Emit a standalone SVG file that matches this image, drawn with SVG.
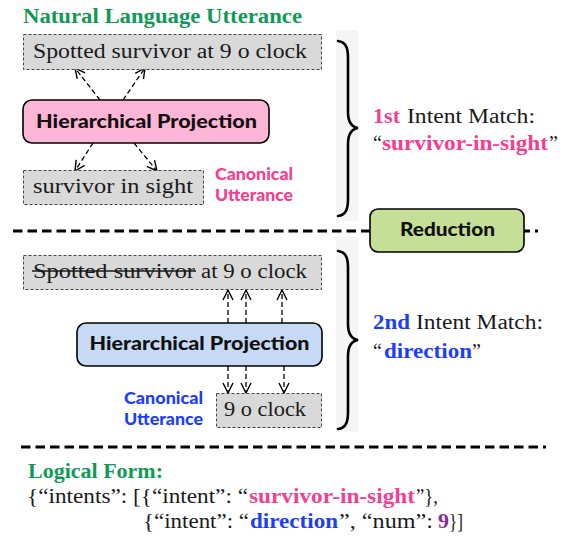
<svg xmlns="http://www.w3.org/2000/svg" width="567" height="543" viewBox="0 0 567 543">
<style>
.serif{font-family:"Liberation Serif","Times New Roman",serif;font-size:20px;fill:#1a1a1a}
.b{font-weight:bold}
.sans{font-family:Lato,"Liberation Sans",Arial,sans-serif;font-weight:900;fill:#111}
.green{fill:#0f9a57}
.pink{fill:#f73d8f}
.blue{fill:#1c3dff}
.purple{fill:#8c2a9c}
.gbox{fill:#d9d9d9;stroke:#444;stroke-width:1;stroke-dasharray:3 2}
.conn{stroke:#000;stroke-width:1.3;stroke-dasharray:5 3;fill:none;marker-end:url(#ah)}
.sep{stroke:#000;stroke-width:3;stroke-dasharray:9.5 5}
.brace{fill:none;stroke:#000;stroke-width:2.6;stroke-linecap:round}
.bracebg{fill:#f5f5f5}
</style>
<defs>
<marker id="ah" markerUnits="userSpaceOnUse" markerWidth="14" markerHeight="14" viewBox="-12 -7 14 14" refX="0" refY="0" orient="auto">
<path d="M-10,-5 L0,0 L-10,5" fill="none" stroke="#000" stroke-width="1.4"/>
</marker>
</defs>
<rect width="567" height="543" fill="#fff"/>

<!-- separators -->
<line class="sep" x1="13" y1="231" x2="538" y2="231"/>
<line class="sep" x1="21" y1="447" x2="546" y2="447"/>

<!-- brace backgrounds and braces -->
<rect class="bracebg" x="336" y="30" width="22" height="191"/>
<rect class="bracebg" x="336" y="237" width="22" height="195"/>
<path class="brace" d="M338,41 C346,42 348,48 348,58 L348,112 C348,122 352,127 358,128 C352,129 348,134 348,144 L348,199 C348,209 346,215 338,216"/>
<path class="brace" d="M338,251 C346,252 348,258 348,268 L348,324 C348,334 352,339 358,340 C352,341 348,346 348,356 L348,412 C348,422 346,428 338,429"/>

<!-- title -->
<text class="serif b green" x="23" y="23" font-size="20" textLength="279" lengthAdjust="spacingAndGlyphs">Natural Language Utterance</text>

<!-- connectors -->
<g id="connectors">
<path class="conn" d="M100,100 L75,68"/>
<path class="conn" d="M123,100 L145,68"/>
<path class="conn" d="M93,143 L75,171"/>
<path class="conn" d="M134,143 L157,171"/>
<path class="conn" d="M228,323 L228,290"/>
<path class="conn" d="M246,323 L246,290"/>
<path class="conn" d="M282,323 L282,290"/>
<path class="conn" d="M228,366 L228,393"/>
<path class="conn" d="M246,366 L246,393"/>
<path class="conn" d="M284,366 L284,393"/>
</g>

<g id="nl1">
<rect class="gbox" x="23.5" y="34.5" width="298" height="35"/>
<text class="serif" x="33" y="58" textLength="274" lengthAdjust="spacingAndGlyphs">Spotted survivor at 9 o clock</text>
</g>

<g id="hp1">
<rect x="23" y="100" width="246" height="43" rx="9" fill="#ffb5d6" stroke="#000" stroke-width="1.6"/>
<text class="sans" x="146.5" y="128" font-size="19" text-anchor="middle" textLength="221" lengthAdjust="spacingAndGlyphs">Hierarchical Projection</text>
</g>

<g id="cu1">
<rect class="gbox" x="23.5" y="170.5" width="180" height="34"/>
<text class="serif" x="33" y="193" textLength="160" lengthAdjust="spacingAndGlyphs">survivor in sight</text>
</g>

<g id="cu1label">
<text class="sans pink" x="215" y="180" font-size="16.5" textLength="78" lengthAdjust="spacingAndGlyphs">Canonical</text>
<text class="sans pink" x="215" y="201" font-size="16.5" textLength="78" lengthAdjust="spacingAndGlyphs">Utterance</text>
</g>

<g id="match1">
<text class="serif b pink" x="373" y="123" textLength="27" lengthAdjust="spacingAndGlyphs">1st</text>
<text class="serif" x="407" y="123" textLength="128" lengthAdjust="spacingAndGlyphs">Intent Match:</text>
<text class="serif" x="373" y="150">“</text>
<text class="serif b pink" x="382" y="150" textLength="166" lengthAdjust="spacingAndGlyphs">survivor-in-sight</text>
<text class="serif" x="549" y="150">”</text>
</g>

<g id="reduction">
<rect x="370" y="209" width="154" height="43" rx="8" fill="#c5df97" stroke="#000" stroke-width="1.6"/>
<text class="sans" x="447.5" y="236" font-size="19" text-anchor="middle" textLength="95" lengthAdjust="spacingAndGlyphs">Reduction</text>
</g>

<g id="nl2">
<rect class="gbox" x="23.5" y="255.5" width="298" height="34"/>
<text class="serif" x="33" y="278" textLength="162" lengthAdjust="spacingAndGlyphs">Spotted survivor</text>
<line x1="32" y1="271" x2="196" y2="271" stroke="#1a1a1a" stroke-width="1.6"/>
<text class="serif" x="201" y="278" textLength="106" lengthAdjust="spacingAndGlyphs">at 9 o clock</text>
</g>

<g id="hp2">
<rect x="77" y="323" width="245" height="43" rx="9" fill="#c6daf5" stroke="#000" stroke-width="1.6"/>
<text class="sans" x="199.5" y="350" font-size="19" text-anchor="middle" textLength="220" lengthAdjust="spacingAndGlyphs">Hierarchical Projection</text>
</g>

<g id="cu2">
<rect class="gbox" x="216.5" y="393.5" width="105" height="34"/>
<text class="serif" x="224" y="416" textLength="82" lengthAdjust="spacingAndGlyphs">9 o clock</text>
</g>

<g id="cu2label">
<text class="sans blue" x="124" y="404" font-size="16.5" textLength="79" lengthAdjust="spacingAndGlyphs">Canonical</text>
<text class="sans blue" x="124" y="425" font-size="16.5" textLength="79" lengthAdjust="spacingAndGlyphs">Utterance</text>
</g>

<g id="match2">
<text class="serif b blue" x="373" y="329" textLength="37" lengthAdjust="spacingAndGlyphs">2nd</text>
<text class="serif" x="416" y="329" textLength="127" lengthAdjust="spacingAndGlyphs">Intent Match:</text>
<text class="serif" x="373" y="358">“</text>
<text class="serif b blue" x="384" y="358" textLength="88" lengthAdjust="spacingAndGlyphs">direction</text>
<text class="serif" x="472" y="358">”</text>
</g>

<g id="logical">
<text class="serif b green" x="28" y="478" textLength="135" lengthAdjust="spacingAndGlyphs">Logical Form:</text>
<text class="serif" x="27" y="503" textLength="221" lengthAdjust="spacingAndGlyphs">{“intents”: [{“intent”: “</text>
<text class="serif b pink" x="249" y="503" textLength="166" lengthAdjust="spacingAndGlyphs">survivor-in-sight</text>
<text class="serif" x="416" y="503" textLength="22" lengthAdjust="spacingAndGlyphs">”},</text>
<text class="serif" x="143" y="528" textLength="106" lengthAdjust="spacingAndGlyphs">{“intent”: “</text>
<text class="serif b blue" x="250" y="528" textLength="88" lengthAdjust="spacingAndGlyphs">direction</text>
<text class="serif" x="339" y="528" textLength="94" lengthAdjust="spacingAndGlyphs">”, “num”:</text>
<text class="serif b purple" x="438" y="528" textLength="11" lengthAdjust="spacingAndGlyphs">9</text>
<text class="serif" x="449" y="528" textLength="14" lengthAdjust="spacingAndGlyphs">}]</text>
</g>
</svg>
